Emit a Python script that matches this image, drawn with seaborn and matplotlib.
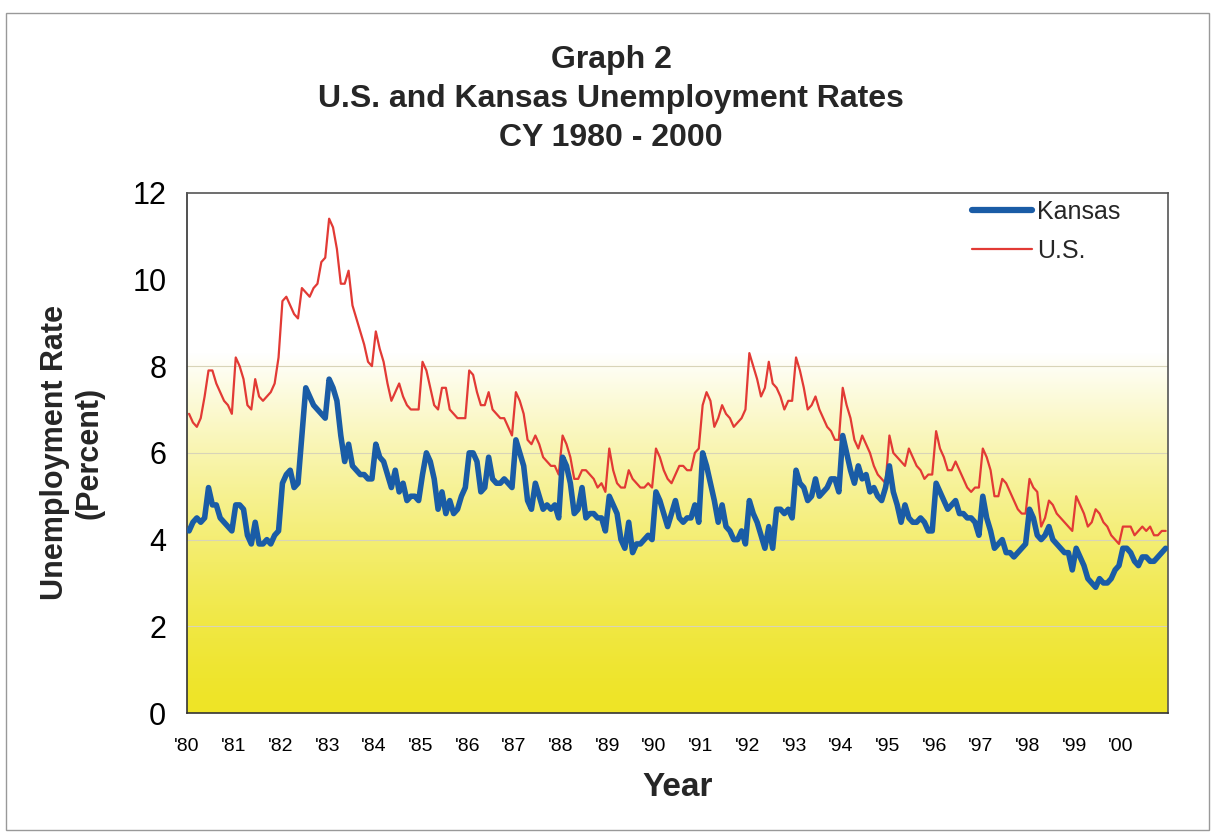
import numpy as np
import pandas as pd
import matplotlib
matplotlib.use("Agg")
import matplotlib.pyplot as plt
from matplotlib.lines import Line2D
from matplotlib.patches import Rectangle
import seaborn as sns

# monthly rates, Jan 1980 - Dec 2000
us_rate = [
    6.9, 6.7, 6.6, 6.8, 7.3, 7.9, 7.9, 7.6, 7.4, 7.2, 7.1, 6.9,    # 1980
    8.2, 8.0, 7.7, 7.1, 7.0, 7.7, 7.3, 7.2, 7.3, 7.4, 7.6, 8.2,    # 1981
    9.5, 9.6, 9.4, 9.2, 9.1, 9.8, 9.7, 9.6, 9.8, 9.9, 10.4, 10.5,  # 1982
    11.4, 11.2, 10.7, 9.9, 9.9, 10.2, 9.4, 9.1, 8.8, 8.5, 8.1, 8.0,  # 1983
    8.8, 8.4, 8.1, 7.6, 7.2, 7.4, 7.6, 7.3, 7.1, 7.0, 7.0, 7.0,    # 1984
    8.1, 7.9, 7.5, 7.1, 7.0, 7.5, 7.5, 7.0, 6.9, 6.8, 6.8, 6.8,    # 1985
    7.9, 7.8, 7.4, 7.1, 7.1, 7.4, 7.0, 6.9, 6.8, 6.8, 6.6, 6.4,    # 1986
    7.4, 7.2, 6.9, 6.3, 6.2, 6.4, 6.2, 5.9, 5.8, 5.7, 5.7, 5.5,    # 1987
    6.4, 6.2, 5.9, 5.4, 5.4, 5.6, 5.6, 5.5, 5.4, 5.2, 5.3, 5.1,    # 1988
    6.1, 5.6, 5.3, 5.2, 5.2, 5.6, 5.4, 5.3, 5.2, 5.2, 5.3, 5.2,    # 1989
    6.1, 5.9, 5.6, 5.4, 5.3, 5.5, 5.7, 5.7, 5.6, 5.6, 6.0, 6.1,    # 1990
    7.1, 7.4, 7.2, 6.6, 6.8, 7.1, 6.9, 6.8, 6.6, 6.7, 6.8, 7.0,    # 1991
    8.3, 8.0, 7.7, 7.3, 7.5, 8.1, 7.6, 7.5, 7.3, 7.0, 7.2, 7.2,    # 1992
    8.2, 7.9, 7.5, 7.0, 7.1, 7.3, 7.0, 6.8, 6.6, 6.5, 6.3, 6.3,    # 1993
    7.5, 7.1, 6.8, 6.3, 6.1, 6.4, 6.2, 6.0, 5.7, 5.5, 5.4, 5.3,    # 1994
    6.4, 6.0, 5.9, 5.8, 5.7, 6.1, 5.9, 5.7, 5.6, 5.4, 5.5, 5.5,    # 1995
    6.5, 6.1, 5.9, 5.6, 5.6, 5.8, 5.6, 5.4, 5.2, 5.1, 5.2, 5.2,    # 1996
    6.1, 5.9, 5.6, 5.0, 5.0, 5.4, 5.3, 5.1, 4.9, 4.7, 4.6, 4.6,    # 1997
    5.4, 5.2, 5.1, 4.3, 4.5, 4.9, 4.8, 4.6, 4.5, 4.4, 4.3, 4.2,    # 1998
    5.0, 4.8, 4.6, 4.3, 4.4, 4.7, 4.6, 4.4, 4.3, 4.1, 4.0, 3.9,    # 1999
    4.3, 4.3, 4.3, 4.1, 4.2, 4.3, 4.2, 4.3, 4.1, 4.1, 4.2, 4.2,    # 2000
]

kansas_rate = [
    4.2, 4.4, 4.5, 4.4, 4.5, 5.2, 4.8, 4.8, 4.5, 4.4, 4.3, 4.2,    # 1980
    4.8, 4.8, 4.7, 4.1, 3.9, 4.4, 3.9, 3.9, 4.0, 3.9, 4.1, 4.2,    # 1981
    5.3, 5.5, 5.6, 5.2, 5.3, 6.4, 7.5, 7.3, 7.1, 7.0, 6.9, 6.8,    # 1982
    7.7, 7.5, 7.2, 6.4, 5.8, 6.2, 5.7, 5.6, 5.5, 5.5, 5.4, 5.4,    # 1983
    6.2, 5.9, 5.8, 5.5, 5.2, 5.6, 5.1, 5.3, 4.9, 5.0, 5.0, 4.9,    # 1984
    5.5, 6.0, 5.8, 5.4, 4.7, 5.1, 4.6, 4.9, 4.6, 4.7, 5.0, 5.2,    # 1985
    6.0, 6.0, 5.8, 5.1, 5.2, 5.9, 5.4, 5.3, 5.3, 5.4, 5.3, 5.2,    # 1986
    6.3, 6.0, 5.7, 4.9, 4.7, 5.3, 5.0, 4.7, 4.8, 4.7, 4.8, 4.5,    # 1987
    5.9, 5.7, 5.3, 4.6, 4.7, 5.2, 4.5, 4.6, 4.6, 4.5, 4.5, 4.2,    # 1988
    5.0, 4.8, 4.6, 4.0, 3.8, 4.4, 3.7, 3.9, 3.9, 4.0, 4.1, 4.0,    # 1989
    5.1, 4.9, 4.6, 4.3, 4.6, 4.9, 4.5, 4.4, 4.5, 4.5, 4.8, 4.4,    # 1990
    6.0, 5.7, 5.3, 4.9, 4.4, 4.8, 4.3, 4.2, 4.0, 4.0, 4.2, 3.9,    # 1991
    4.9, 4.6, 4.4, 4.1, 3.8, 4.3, 3.8, 4.7, 4.7, 4.6, 4.7, 4.5,    # 1992
    5.6, 5.3, 5.2, 4.9, 5.0, 5.4, 5.0, 5.1, 5.2, 5.4, 5.4, 5.1,    # 1993
    6.4, 6.0, 5.6, 5.3, 5.7, 5.4, 5.5, 5.1, 5.2, 5.0, 4.9, 5.2,    # 1994
    5.7, 5.1, 4.8, 4.4, 4.8, 4.5, 4.4, 4.4, 4.5, 4.4, 4.2, 4.2,    # 1995
    5.3, 5.1, 4.9, 4.7, 4.8, 4.9, 4.6, 4.6, 4.5, 4.5, 4.4, 4.1,    # 1996
    5.0, 4.5, 4.2, 3.8, 3.9, 4.0, 3.7, 3.7, 3.6, 3.7, 3.8, 3.9,    # 1997
    4.7, 4.5, 4.1, 4.0, 4.1, 4.3, 4.0, 3.9, 3.8, 3.7, 3.7, 3.3,    # 1998
    3.8, 3.6, 3.4, 3.1, 3.0, 2.9, 3.1, 3.0, 3.0, 3.1, 3.3, 3.4,    # 1999
    3.8, 3.8, 3.7, 3.5, 3.4, 3.6, 3.6, 3.5, 3.5, 3.6, 3.7, 3.8,    # 2000
]

years = list(range(1980, 2001))
year_labels = ["'" + str(y)[2:] for y in years]

n = len(us_rate)
t = 1980 + (np.arange(n) + 0.5) / 12.0
df = pd.DataFrame({
    "year": np.concatenate([t, t]),
    "rate": us_rate + kansas_rate,
    "series": ["U.S."] * n + ["Kansas"] * n,
})

sns.set_style("white")
plt.rcParams["font.family"] = ["Liberation Sans", "DejaVu Sans"]

fig = plt.figure(figsize=(12.15, 8.34), dpi=100)
ax = fig.add_axes([0.154, 0.145, 0.807, 0.624])

# white -> yellow background of the plot area
v = np.linspace(0, 12, 400)
frac = np.clip(v / 8.3, 0, 1) ** 1.4
yellow = np.array([238, 228, 38]) / 255.0
white = np.array([1.0, 1.0, 1.0])
grad = yellow[None, :] * (1 - frac[:, None]) + white[None, :] * frac[:, None]
ax.imshow(grad[:, None, :], extent=[1980, 2001, 0, 12], origin="lower",
          aspect="auto", zorder=0, interpolation="bilinear")

for yv in [2, 4, 6, 8]:
    ax.axhline(yv, color="#d8d4b8", lw=0.8, zorder=1)

us = df[df["series"] == "U.S."]
ks = df[df["series"] == "Kansas"]
sns.lineplot(data=us, x="year", y="rate", ax=ax, color="#e23a35", lw=1.6, zorder=3,
             solid_joinstyle="round")
sns.lineplot(data=ks, x="year", y="rate", ax=ax, color="#1a5ca6", lw=4.0, zorder=4,
             solid_joinstyle="round", solid_capstyle="round")

ax.set_xlim(1980, 2001)
ax.set_ylim(0, 12)
ax.set_xticks(years)
ax.set_xticklabels(year_labels, fontsize=14)
ax.set_yticks([0, 2, 4, 6, 8, 10, 12])
ax.set_yticklabels(["0", "2", "4", "6", "8", "10", "12"], fontsize=22)
ax.tick_params(axis="x", direction="out", length=6, width=1, pad=12, colors="#222222")
ax.tick_params(axis="y", direction="inout", length=10, width=1, pad=10, colors="#222222")
for lbl in ax.get_xticklabels() + ax.get_yticklabels():
    lbl.set_color("black")

for side in ["top", "right"]:
    ax.spines[side].set_color("#555555")
    ax.spines[side].set_linewidth(1.2)
for side in ["left", "bottom"]:
    ax.spines[side].set_color("#333333")
    ax.spines[side].set_linewidth(1.2)

ax.set_xlabel("Year", fontsize=24, fontweight="bold", labelpad=12)
ax.set_ylabel("Unemployment Rate\n(Percent)", fontsize=22, fontweight="bold", labelpad=20)

handles = [Line2D([0], [0], color="#1a5ca6", lw=4.5),
           Line2D([0], [0], color="#e23a35", lw=1.6)]
ax.legend(handles, ["Kansas", "U.S."], loc="upper right", frameon=False,
          fontsize=18, handlelength=2.4, handletextpad=0.2, labelspacing=0.6,
          bbox_to_anchor=(0.975, 1.03))

fig.text(0.503, 0.928, "Graph 2", ha="center", va="center", fontsize=23, fontweight="bold")
fig.text(0.503, 0.881, "U.S. and Kansas Unemployment Rates", ha="center", va="center",
         fontsize=23, fontweight="bold")
fig.text(0.503, 0.834, "CY 1980 - 2000", ha="center", va="center", fontsize=23, fontweight="bold")

fig.patches.append(Rectangle((0.005, 0.005), 0.99, 0.98, transform=fig.transFigure,
                             fill=False, edgecolor="#999999", lw=1.0))

fig.savefig("out.png", dpi=100)
